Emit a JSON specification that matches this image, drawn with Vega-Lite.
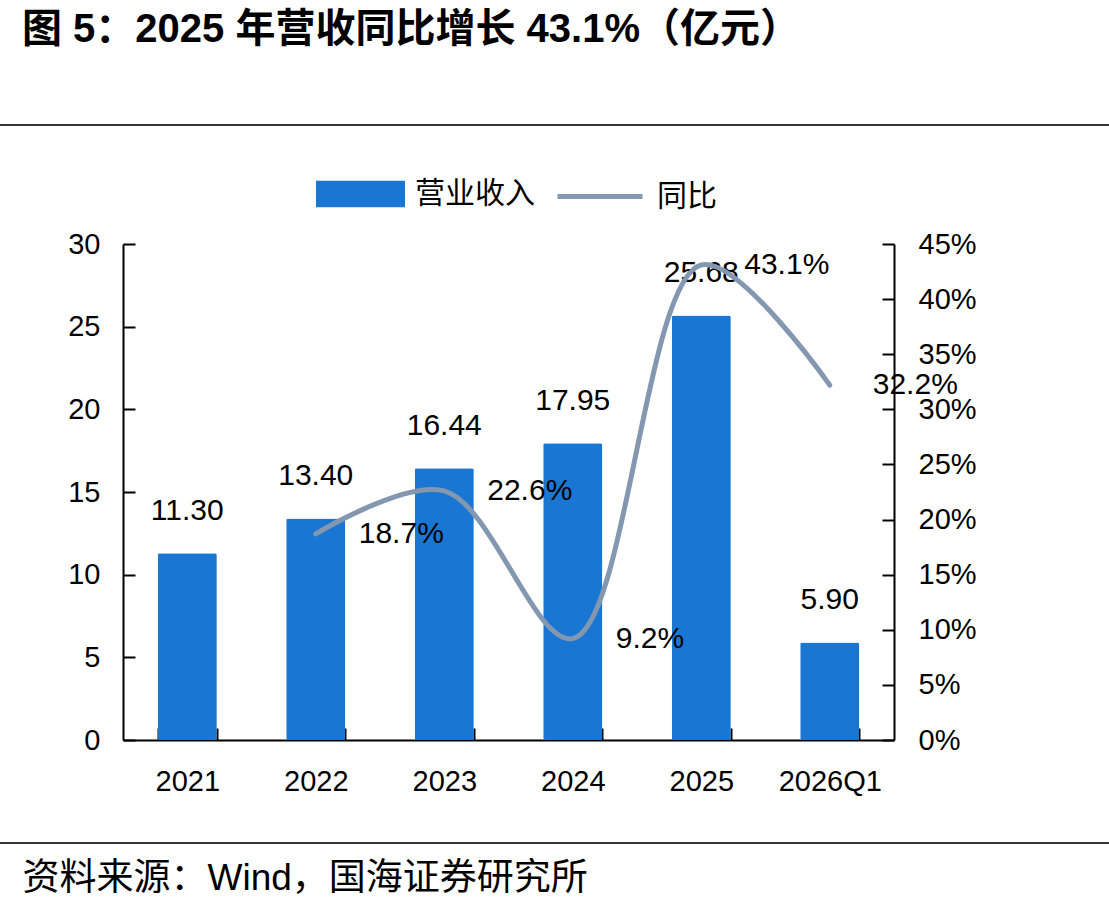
{
  "$schema": "https://vega.github.io/schema/vega-lite/v6.json",
  "autosize": "none",
  "width": 771,
  "height": 496,
  "padding": {"left": 123, "top": 244, "right": 215, "bottom": 169},
  "background": "white",
  "config": {"view": {"stroke": null}, "font": "Liberation Sans"},
  "title": {
    "text": "图 5：2025 年营收同比增长 43.1%（亿元）",
    "anchor": "start",
    "frame": "group",
    "dx": -101,
    "dy": -70,
    "fontSize": 40,
    "fontWeight": "bold",
    "font": "Liberation Sans, Noto Sans CJK SC",
    "color": "black"
  },
  "data": {
    "values": [
      {"cat": "2021", "rev": 11.30, "yoy": null},
      {"cat": "2022", "rev": 13.40, "yoy": 0.187},
      {"cat": "2023", "rev": 16.44, "yoy": 0.226},
      {"cat": "2024", "rev": 17.95, "yoy": 0.092},
      {"cat": "2025", "rev": 25.68, "yoy": 0.431},
      {"cat": "2026Q1", "rev": 5.90, "yoy": 0.322}
    ]
  },
  "layer": [
    {
      "layer": [
        {
          "mark": {"type": "bar", "color": "#1976D2", "cornerRadius": 2},
          "encoding": {
            "x": {
              "field": "cat", "type": "nominal", "sort": null,
              "scale": {"paddingInner": 0.54, "paddingOuter": 0.27},
              "axis": {
                "labelAngle": 0,
                "labelFontSize": 29,
                "labelColor": "black",
                "labelPadding": 39,
                "tickBand": "extent",
                "tickSize": -12,
                "tickWidth": 2,
                "tickColor": "black",
                "domainColor": "black",
                "domainWidth": 2,
                "title": "资料来源：Wind，国海证券研究所",
                "titleFont": "Liberation Sans, Noto Sans CJK SC",
                "titleFontSize": 37,
                "titleFontWeight": "normal",
                "titleColor": "black",
                "titleAnchor": "start",
                "titleAlign": "left",
                "titleBaseline": "middle",
                "titleX": -101,
                "titleY": 138
              }
            },
            "y": {
              "field": "rev", "type": "quantitative",
              "scale": {"domain": [0, 30], "nice": false},
              "axis": {
                "values": [0, 5, 10, 15, 20, 25, 30],
                "grid": false,
                "title": null,
                "labelFontSize": 29,
                "labelColor": "black",
                "labelPadding": 35,
                "tickSize": -12,
                "tickWidth": 2,
                "tickColor": "black",
                "domainColor": "black",
                "domainWidth": 2
              }
            },
            "color": {
              "datum": "营业收入",
              "scale": {"range": ["#1976D2"]},
              "legend": {
                "orient": "none",
                "legendX": 193,
                "legendY": -94.5,
                "title": null,
                "symbolType": "M-1,-0.3H1V0.3H-1Z",
                "symbolSize": 7921,
                "symbolStrokeWidth": 0,
                "labelFont": "Noto Sans CJK SC",
                "labelFontSize": 30,
                "labelColor": "black",
                "labelOffset": 10
              }
            }
          }
        },
        {
          "mark": {"type": "text", "baseline": "middle", "dy": -42, "fontSize": 30, "color": "black"},
          "encoding": {
            "x": {"field": "cat", "type": "nominal", "sort": null},
            "y": {"field": "rev", "type": "quantitative"},
            "text": {"field": "rev", "type": "quantitative", "format": ".2f"}
          }
        }
      ]
    },
    {
      "transform": [{"filter": "datum.yoy != null"}],
      "layer": [
        {
          "mark": {"type": "line", "interpolate": "catmull-rom", "strokeWidth": 5, "strokeCap": "round"},
          "encoding": {
            "x": {"field": "cat", "type": "nominal", "sort": null},
            "y": {
              "field": "yoy", "type": "quantitative",
              "scale": {"domain": [0, 0.45], "nice": false},
              "axis": {
                "orient": "right",
                "values": [0, 0.05, 0.1, 0.15, 0.2, 0.25, 0.3, 0.35, 0.4, 0.45],
                "format": ".0%",
                "grid": false,
                "title": null,
                "labelFontSize": 29,
                "labelColor": "black",
                "labelPadding": 36,
                "tickSize": -12,
                "tickWidth": 2,
                "tickColor": "black",
                "domainColor": "black",
                "domainWidth": 2
              }
            },
            "stroke": {
              "datum": "同比",
              "scale": {"range": ["#8497B0"]},
              "legend": {
                "orient": "none",
                "legendX": 432,
                "legendY": -92.5,
                "title": null,
                "symbolType": "M-1,0H1",
                "symbolSize": 7225,
                "symbolStrokeWidth": 5,
                "labelFont": "Noto Sans CJK SC",
                "labelFontSize": 30,
                "labelColor": "black",
                "labelOffset": 12
              }
            }
          }
        },
        {
          "mark": {"type": "text", "align": "left", "baseline": "middle", "dx": 43, "fontSize": 30, "color": "black"},
          "encoding": {
            "x": {"field": "cat", "type": "nominal", "sort": null},
            "y": {"field": "yoy", "type": "quantitative"},
            "text": {"field": "yoy", "type": "quantitative", "format": ".1%"}
          }
        }
      ]
    },
    {
      "data": {"values": [{"k": 1}]},
      "mark": {"type": "rule", "color": "#333333", "strokeWidth": 2},
      "encoding": {"x": {"value": -123}, "x2": {"value": 986}, "y": {"value": -119}}
    },
    {
      "data": {"values": [{"k": 1}]},
      "mark": {"type": "rule", "color": "#333333", "strokeWidth": 2},
      "encoding": {"x": {"value": -123}, "x2": {"value": 986}, "y": {"value": 599}}
    }
  ],
  "resolve": {"scale": {"y": "independent"}}
}
